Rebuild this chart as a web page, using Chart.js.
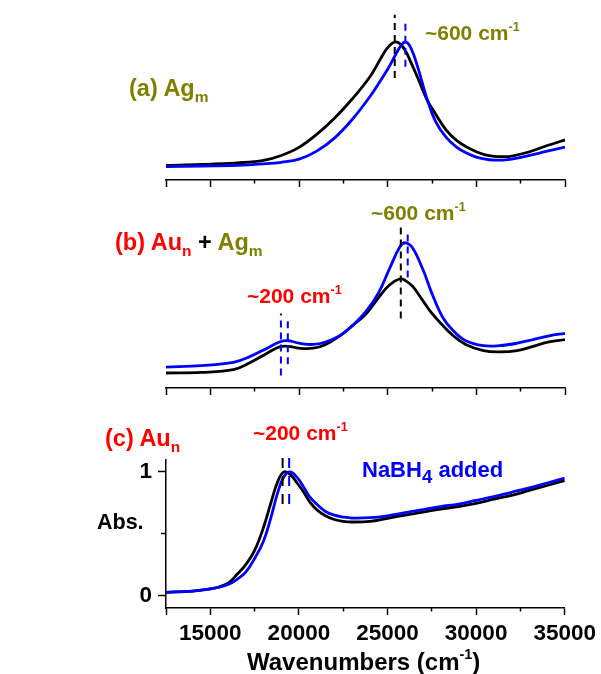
<!DOCTYPE html>
<html>
<head>
<meta charset="utf-8">
<title>Abs spectra</title>
<script src="https://cdn.jsdelivr.net/npm/chart.js@4.4.0/dist/chart.umd.min.js"></script>
<style>
    body { margin: 0; background: #fff; }
    #page { position: relative; width: 601px; height: 674px; overflow: hidden;
            font-family: "Liberation Sans", Arial, sans-serif; font-weight: bold; }
    canvas { position: absolute; left: 0; }
    .txt { position: absolute; line-height: 1; white-space: nowrap; font-size: 21px; }
    .big { font-size: 23.5px; }
    .sub { font-size: 0.66em; vertical-align: -0.4em; line-height: 0; }
    .sub4 { font-size: 0.85em; vertical-align: -0.3em; line-height: 0; }
    .sup { font-size: 0.6em; vertical-align: 0.75em; line-height: 0; }
    .olive { color: #808000; }
    .red { color: #ff0000; }
    .blue { color: #0000ff; }
    .black { color: #000; }
</style>
</head>
<body>
<div id="page">
    <canvas id="chartA" width="601" height="200" style="top:0px"></canvas>
    <canvas id="chartB" width="601" height="215" style="top:195px"></canvas>
    <canvas id="chartC" width="601" height="234" style="top:440px"></canvas>

    <div class="txt big olive" style="left:129px; top:77px">(a) Ag<span class="sub">m</span></div>
    <div class="txt olive" style="left:425px; top:22px">~600 cm<span class="sup">-1</span></div>

    <div class="txt big red" style="left:115px; top:231px">(b) Au<span class="sub">n</span> <span class="black">+</span> <span class="olive">Ag<span class="sub">m</span></span></div>
    <div class="txt olive" style="left:371px; top:202px">~600 cm<span class="sup">-1</span></div>
    <div class="txt red" style="left:247px; top:285px">~200 cm<span class="sup">-1</span></div>

    <div class="txt big red" style="left:105px; top:427px">(c) Au<span class="sub">n</span></div>
    <div class="txt red" style="left:253px; top:422px">~200 cm<span class="sup">-1</span></div>
    <div class="txt blue" style="left:362px; top:459px; font-size:22px">NaBH<span class="sub4">4</span> added</div>
    <div class="txt black" style="left:97px; top:512px; font-size:21.5px">Abs.</div>
    <div class="txt black" style="left:247px; top:650px; font-size:24px">Wavenumbers (cm<span class="sup">-1</span>)</div>
</div>

<script>
// ================= DATA =================
const xMajor = [12500, 15000, 20000, 25000, 30000, 35000];
const xMinor = [17500, 22500, 27500, 32500];
const yMajorC = [0, 1];
const yMinorC = [0.5];

// (a) Ag_m
const waveA = [12500, 14500, 16500, 18000, 19000, 20000, 21000, 22000, 23000, 24000, 24600, 25000, 25400, 25700, 26000, 26300, 26700, 27200, 27700, 28300, 28900, 29500, 30000, 30500, 31000, 31500, 32000, 33000, 34000, 35000];
const agBefore = [0.005, 0.012, 0.025, 0.045, 0.085, 0.15, 0.255, 0.385, 0.54, 0.72, 0.865, 0.955, 1.0, 0.985, 0.93, 0.84, 0.71, 0.54, 0.42, 0.29, 0.205, 0.15, 0.115, 0.09, 0.078, 0.075, 0.08, 0.115, 0.165, 0.21];
const agAfter = [-0.005, 0.0, 0.005, 0.017, 0.03, 0.055, 0.12, 0.225, 0.375, 0.56, 0.69, 0.78, 0.885, 0.96, 1.0, 0.955, 0.795, 0.55, 0.36, 0.23, 0.15, 0.1, 0.072, 0.056, 0.048, 0.048, 0.055, 0.085, 0.12, 0.153];
const markA = [[25400, 0.71, 1.22], [26000, 0.80, 1.18]];

// (b) Au_n + Ag_m
const waveB = [12500, 14500, 16300, 17200, 18200, 18900, 19400, 20000, 20800, 21500, 22300, 23000, 23800, 24500, 25100, 25700, 26000, 26400, 27000, 27500, 28100, 28700, 29400, 30400, 31300, 32300, 33200, 34100, 35000];
const mixBefore = [0, 0.005, 0.027, 0.08, 0.16, 0.21, 0.215, 0.2, 0.2, 0.23, 0.3, 0.38, 0.48, 0.61, 0.71, 0.76, 0.745, 0.7, 0.58, 0.48, 0.385, 0.3, 0.23, 0.18, 0.17, 0.18, 0.215, 0.25, 0.27];
const mixAfter = [0.048, 0.06, 0.086, 0.13, 0.2, 0.25, 0.26, 0.24, 0.23, 0.25, 0.3, 0.38, 0.5, 0.65, 0.84, 1.02, 1.05, 1.01, 0.83, 0.64, 0.45, 0.34, 0.26, 0.22, 0.22, 0.24, 0.27, 0.3, 0.32];
const markB = [[25740, 0.44, 1.21], [26130, 0.77, 1.15], [18980, -0.02, 0.48], [19370, 0.07, 0.44]];

// (c) Au_n
const waveC = [12500, 14000, 15000, 15500, 16000, 16500, 17000, 17500, 18000, 18400, 18800, 19150, 19500, 19900, 20300, 20600, 21000, 21500, 22000, 22500, 23000, 24000, 25000, 26000, 27000, 28000, 29000, 30000, 31000, 32000, 33000, 34000, 35000];
const auBefore = [0.027, 0.037, 0.055, 0.07, 0.1, 0.17, 0.25, 0.365, 0.55, 0.74, 0.92, 1.0, 0.98, 0.91, 0.83, 0.76, 0.695, 0.645, 0.615, 0.6, 0.595, 0.6, 0.625, 0.65, 0.675, 0.7, 0.72, 0.745, 0.78, 0.81, 0.85, 0.89, 0.93];
const auAfter = [0.027, 0.037, 0.055, 0.068, 0.09, 0.13, 0.19, 0.3, 0.44, 0.62, 0.83, 0.96, 1.0, 0.955, 0.87, 0.8, 0.74, 0.68, 0.65, 0.635, 0.627, 0.63, 0.645, 0.67, 0.695, 0.72, 0.74, 0.77, 0.8, 0.835, 0.87, 0.91, 0.95];
const markC = [[19080, 0.74, 1.13], [19450, 0.74, 1.13]];

// ================= STYLE =================
const FONT = "'Liberation Sans', Arial, sans-serif";
const BLACK = "#000000";
const BLUE = "#0000ff";

function curve(xs, ys, color, order) {
    return {
        data: xs.map((x, i) => ({ x, y: ys[i] })),
        borderColor: color,
        borderWidth: 2.8,
        pointRadius: 0,
        tension: 0.4,
        fill: false,
        order
    };
}

function mark(m, color, dash) {
    return {
        data: [{ x: m[0], y: m[1] }, { x: m[0], y: m[2] }],
        borderColor: color,
        borderWidth: 2,
        borderDash: dash,
        pointRadius: 0,
        clip: false,
        order: -1
    };
}

function xScales(height, labels) {
    return {
        x: {
            type: "linear", min: 12500, max: 35000, position: "bottom", weight: 1,
            afterBuildTicks: s => { s.ticks = xMajor.map(v => ({ value: v })); },
            afterFit: s => { s.height = height; },
            ticks: {
                display: labels, autoSkip: false, maxRotation: 0, padding: 5, color: BLACK,
                font: { family: FONT, size: 22.5, weight: "bold" },
                callback: v => v === 12500 ? "" : String(v)
            },
            grid: { drawOnChartArea: false, tickLength: 7, tickWidth: 1.5, tickColor: BLACK },
            border: { display: true, color: BLACK, width: 1.5 }
        },
        xm: {
            type: "linear", min: 12500, max: 35000, position: "bottom", weight: 0,
            afterBuildTicks: s => { s.ticks = xMinor.map(v => ({ value: v })); },
            afterFit: s => { s.height = 0; },
            ticks: { display: false },
            grid: { drawOnChartArea: false, tickLength: 3.5, tickWidth: 1.5, tickColor: BLACK },
            border: { display: false }
        }
    };
}

function baseOptions(padding, scales) {
    return {
        responsive: false,
        animation: false,
        devicePixelRatio: 1,
        layout: { padding },
        plugins: { legend: { display: false }, tooltip: { enabled: false } },
        scales
    };
}

// ================= PANEL A =================
new Chart(document.getElementById("chartA"), {
    type: "line",
    data: {
        datasets: [
            curve(waveA, agAfter, BLUE, 0),
            curve(waveA, agBefore, BLACK, 1),
            mark(markA[0], BLACK, [7, 5]),
            mark(markA[1], BLUE, [7, 5])
        ]
    },
    options: baseOptions({ left: 166, right: 36, top: 10, bottom: 0 }, {
        ...xScales(20, false),
        y: { type: "linear", display: false, min: -0.113, max: 1.258 }
    })
});

// ================= PANEL B =================
new Chart(document.getElementById("chartB"), {
    type: "line",
    data: {
        datasets: [
            curve(waveB, mixAfter, BLUE, 0),
            curve(waveB, mixBefore, BLACK, 1),
            mark(markB[0], BLACK, [7, 5]),
            mark(markB[1], BLUE, [7, 5]),
            mark(markB[2], BLUE, [7, 5]),
            mark(markB[3], BLUE, [7, 5])
        ]
    },
    options: baseOptions({ left: 166, right: 36, top: 5, bottom: 0 }, {
        ...xScales(22, false),
        y: { type: "linear", display: false, min: -0.121, max: 1.395 }
    })
});

// ================= PANEL C =================
new Chart(document.getElementById("chartC"), {
    type: "line",
    data: {
        datasets: [
            curve(waveC, auAfter, BLUE, 0),
            curve(waveC, auBefore, BLACK, 1),
            mark(markC[0], BLACK, [10, 8]),
            mark(markC[1], BLUE, [10, 8])
        ]
    },
    options: baseOptions({ left: 0, right: 36, top: 18, bottom: 0 }, {
        ...xScales(66, true),
        y: {
            type: "linear", min: -0.1, max: 1.1, position: "left", weight: 1,
            afterBuildTicks: s => { s.ticks = yMajorC.map(v => ({ value: v })); },
            afterFit: s => { s.width = 166; },
            ticks: {
                padding: 6, color: BLACK,
                font: { family: FONT, size: 22.5, weight: "bold" },
                callback: v => String(v)
            },
            grid: { drawOnChartArea: false, tickLength: 8, tickWidth: 1.5, tickColor: BLACK },
            border: { display: true, color: BLACK, width: 1.5 }
        },
        ym: {
            type: "linear", min: -0.1, max: 1.1, position: "left", weight: 0,
            afterBuildTicks: s => { s.ticks = yMinorC.map(v => ({ value: v })); },
            afterFit: s => { s.width = 0; },
            ticks: { display: false },
            grid: { drawOnChartArea: false, tickLength: 5, tickWidth: 1.5, tickColor: BLACK },
            border: { display: false }
        }
    })
});
</script>
</body>
</html>
